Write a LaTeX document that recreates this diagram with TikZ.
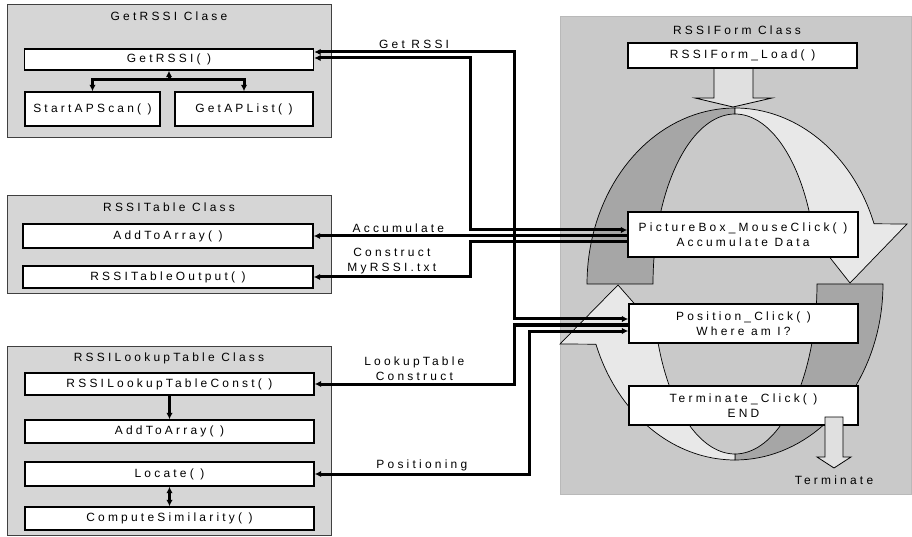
\documentclass[tikz,border=0pt]{standalone}
\usepackage{fontspec}
\setmainfont{Liberation Sans}[LetterSpace=27]
\usepackage{tikz}
\usetikzlibrary{arrows.meta,positioning}

\tikzset{
  classbox/.style={draw=black!75, fill=gray!32, line width=0.9bp},
  method/.style={draw, fill=white, line width=1.4bp, inner sep=0pt, align=center},
  wide/.style={method, minimum width=289bp, minimum height=22bp},
  formbox/.style={method, minimum width=229bp},
  link/.style={line width=3bp},
  lbl/.style={above, inner sep=1.5bp, align=center},
  darkband/.style={fill=gray!70, draw=black, line width=0.7bp},
  lightband/.style={fill=gray!18, draw=black, line width=0.7bp},
  hollow/.style={fill=gray!24, draw=black, line width=0.8bp},
}

\begin{document}
\begin{tikzpicture}[x=1bp, y=-1bp, font=\fontsize{12}{15}\selectfont,
  >={Latex[length=6.5bp,width=6.5bp]}]
\useasboundingbox (0,0) rectangle (912,537);

% class frames on the left
\draw[classbox] (7,4) rectangle (331,137);
\draw[classbox] (7,195) rectangle (331,293);
\draw[classbox] (7,346) rectangle (331,535);
\node (t1) at (169,16) {GetRSSI Clase};
\node (t2) at (169,207) {RSSITable Class};
\node (t3) at (169,358) {RSSILookupTable Class};

\node[wide, minimum height=21bp] (getrssi) at (169,59.5) {GetRSSI( )};
\node[method, minimum width=135bp, minimum height=34bp] (startap) at (92.5,109) {StartAPScan( )};
\node[method, minimum width=138bp, minimum height=34bp] (getap) at (244,109) {GetAPList( )};

\node[wide, minimum width=290bp, minimum height=24bp] (add1) at (168,236) {AddToArray( )};
\node[wide, minimum width=290bp] (tableout) at (168,277) {RSSITableOutput( )};

\node[wide] (lutconst) at (169.5,384) {RSSILookupTableConst( )};
\node[wide, minimum height=23bp] (add2) at (169.5,431.5) {AddToArray( )};
\node[wide, minimum height=24bp] (locate) at (169.5,474) {Locate( )};
\node[wide, minimum height=23bp] (compute) at (169.5,518.5) {ComputeSimilarity( )};

\coordinate (fork) at (169,80);
\draw[link,<->] (getrssi.south) -- (getrssi.south |- fork) -| (startap.north);
\draw[link,->] (getrssi.south |- fork) -| (getap.north);
\draw[link,->] (lutconst) -- (add2);
\draw[link,<->] (locate) -- (compute);

% form panel
\draw[fill=gray!42, draw=gray!55, line width=0.8bp] (560,16) rectangle (911,494);
\node (t4) at (737,30) {RSSIForm Class};

% cycle ribbon
\filldraw[darkband] plot[domain=90:180, samples=40, variable=\t] ({735+148*cos(\t)},{284-176*sin(\t)})
  -- plot[domain=180:90, samples=40, variable=\t] ({735+82*cos(\t)},{284-170*sin(\t)}) -- cycle;
\filldraw[darkband] plot[domain=360:270, samples=40, variable=\t] ({735+148*cos(\t)},{284-176*sin(\t)})
  -- plot[domain=270:360, samples=40, variable=\t] ({735+82*cos(\t)},{284-170*sin(\t)}) -- cycle;
\filldraw[lightband] plot[domain=90:20, samples=40, variable=\t] ({735+148*cos(\t)},{284-176*sin(\t)})
  -- (907,224) -- (850,283) -- (805,226)
  -- plot[domain=20:90, samples=40, variable=\t] ({735+82*cos(\t)},{284-170*sin(\t)}) -- cycle;
\filldraw[lightband] plot[domain=270:200, samples=40, variable=\t] ({735+148*cos(\t)},{284-176*sin(\t)})
  -- (560,344) -- (618,285) -- (668,342)
  -- plot[domain=200:270, samples=40, variable=\t] ({735+82*cos(\t)},{284-170*sin(\t)}) -- cycle;

\filldraw[hollow] (714,66) -- (714,98) -- (695,98) -- (733,107) -- (772,98) -- (753,98) -- (753,66) -- cycle;

\node[formbox, minimum height=25bp] (formload) at (742.5,55.5) {RSSIForm\_Load( )};
\node[formbox, minimum width=230bp, minimum height=45bp] (picbox) at (743,234.5) {PictureBox\_MouseClick( )\\Accumulate Data};
\node[formbox, minimum height=39bp] (position) at (743.5,323.5) {Position\_Click( )\\Where am I?};
\node[formbox, minimum height=39bp] (terminate) at (743.5,405.5) {Terminate\_Click( )\\END};

\filldraw[hollow] (825,417) -- (825,457) -- (817,457) -- (834,468) -- (851,457) -- (843,457) -- (843,417) -- cycle;
\node (termlbl) at (834,480) {Terminate};

% calls between the classes
\coordinate (busA) at (514,0);
\coordinate (busB) at (470,0);
\coordinate (busF) at (529,0);
\coordinate (aS) at ([yshift=7.5bp]getrssi.east);
\coordinate (aE) at ([yshift=4.5bp]position.west);
\coordinate (bS) at ([yshift=1.5bp]getrssi.east);
\coordinate (bE) at ([yshift=4.5bp]picbox.west);
\coordinate (dE) at ([yshift=-7.5bp]picbox.west);
\coordinate (eE) at ([yshift=-1.5bp]position.west);
\coordinate (fE) at ([yshift=-7.5bp]position.west);

\draw[link,<->] (aS) -- node[lbl]{Get RSSI} (aS -| busA) |- (aE);
\draw[link,<->] (bS) -- (bS -| busB) |- (bE);
\draw[link,<-] (add1.east) -- node[lbl, pos=0.27]{Accumulate} (add1.east -| picbox.west);
\draw[link,<-] (tableout.east) -- node[lbl]{Construct\\MyRSSI.txt} (tableout.east -| busB) |- (dE);
\draw[link,<-] (lutconst.east) -- node[lbl]{LookupTable\\Construct} (lutconst.east -| busA) |- (eE);
\draw[link,<->] (locate.east) -- node[lbl]{Positioning} (locate.east -| busF) |- (fE);
\end{tikzpicture}
\end{document}
